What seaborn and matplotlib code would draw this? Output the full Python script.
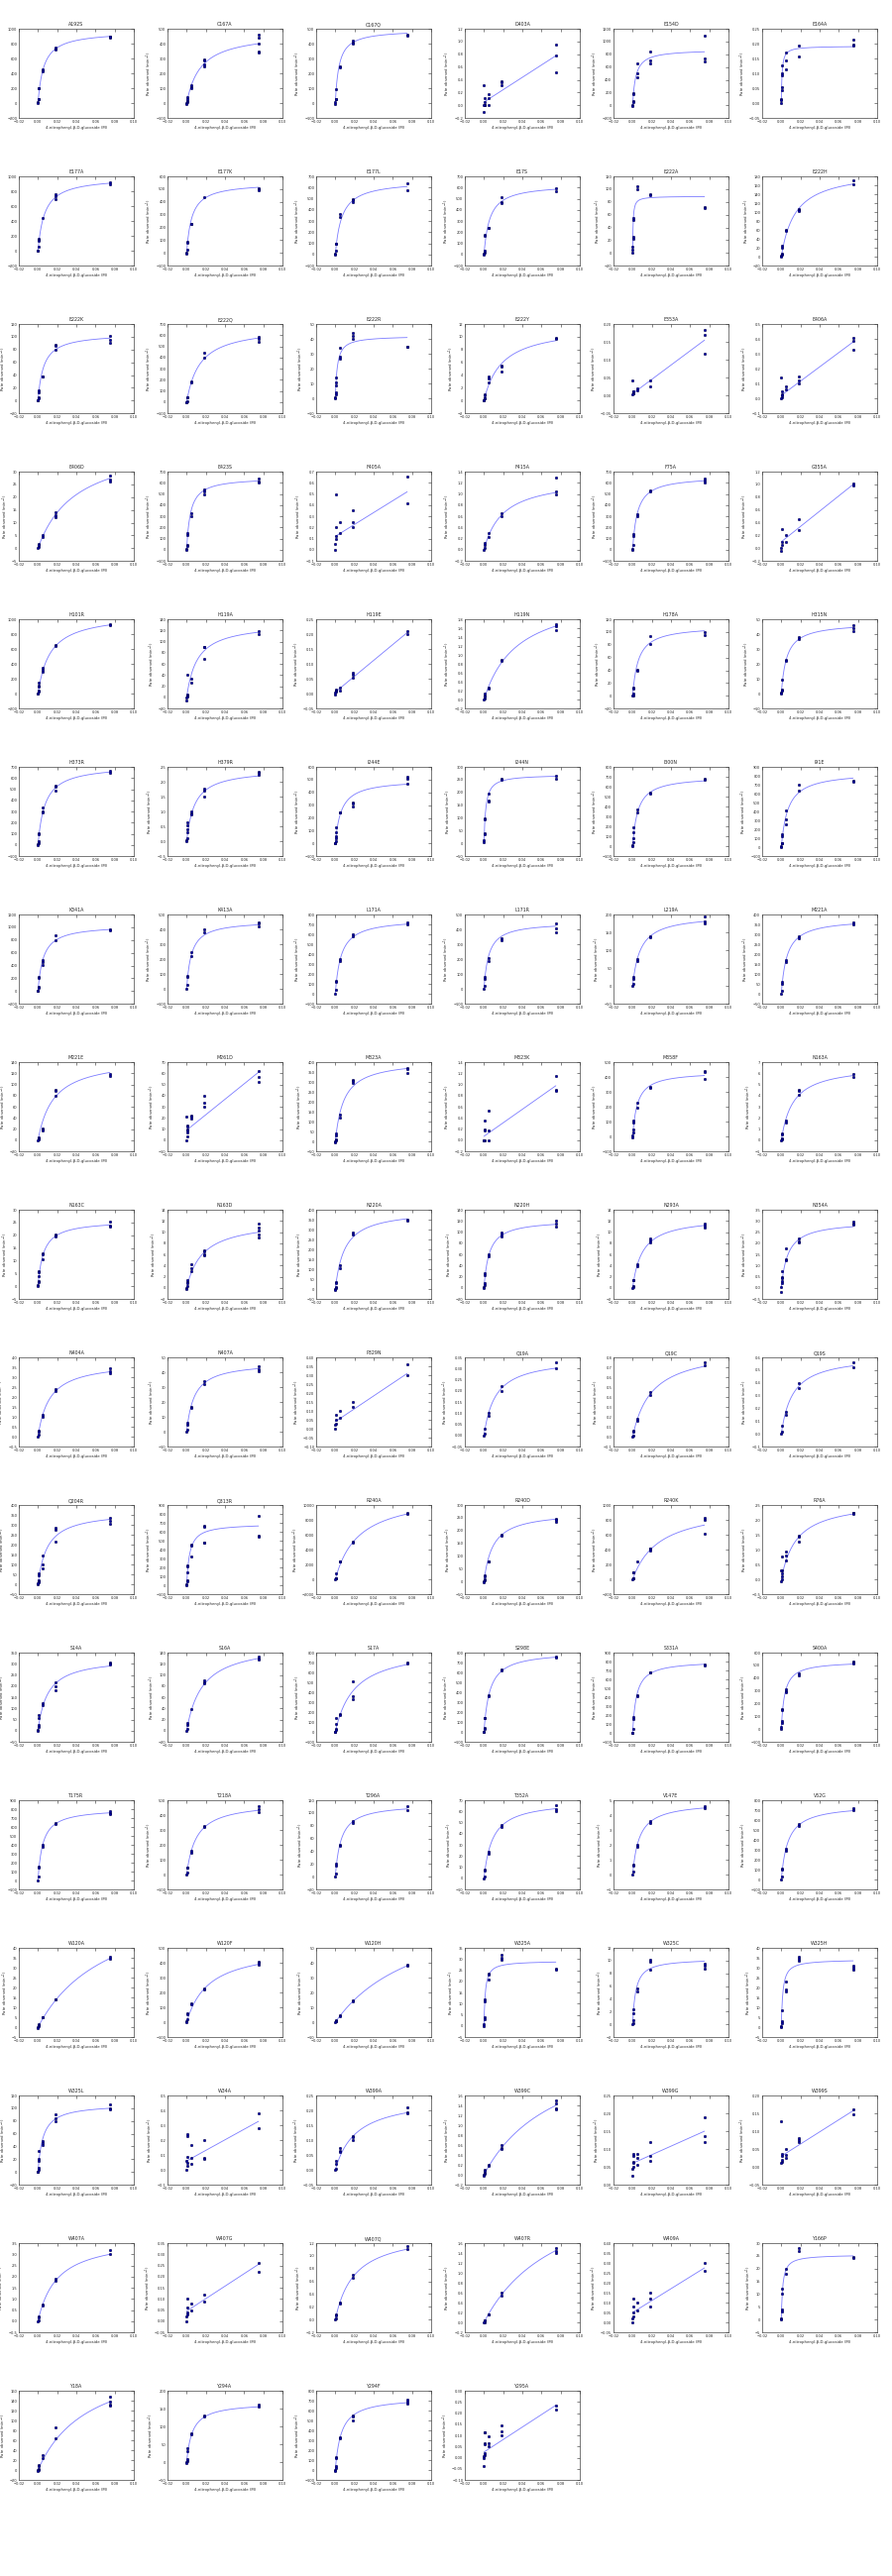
import numpy as np
import matplotlib
matplotlib.use("Agg")
import matplotlib.pyplot as plt
from matplotlib.ticker import MaxNLocator
import seaborn as sns

# substrate concentrations (M) of the 4-fold dilution series
conc = [0.075, 0.01875, 0.0047, 0.00117, 0.0003, 0.0]

mutants = [
    "A192S", "C167A", "C167Q", "D403A", "E154D", "E164A",
    "E177A", "E177K", "E177L", "E17S", "E222A", "E222H",
    "E222K", "E222Q", "E222R", "E222Y", "E353A", "E406A",
    "E406D", "E423S", "F405A", "F415A", "F75A", "G355A",
    "H101R", "H119A", "H119E", "H119N", "H178A", "H315N",
    "H373R", "H379R", "I244E", "I244N", "I300N", "I91E",
    "K341A", "K413A", "L171A", "L171R", "L219A", "M221A",
    "M221E", "M261D", "M323A", "M323K", "M358F", "N163A",
    "N163C", "N163D", "N220A", "N220H", "N293A", "N354A",
    "N404A", "N407A", "P329N", "Q19A", "Q19C", "Q19S",
    "Q204R", "Q313R", "R240A", "R240D", "R240K", "R76A",
    "S14A", "S16A", "S17A", "S298E", "S331A", "S400A",
    "T175R", "T218A", "T296A", "T352A", "V147E", "V52G",
    "W120A", "W120F", "W120H", "W325A", "W325C", "W325H",
    "W325L", "W34A", "W399A", "W399C", "W399G", "W399S",
    "W407A", "W407G", "W407Q", "W407R", "W409A", "Y166P",
    "Y18A", "Y294A", "Y294F", "Y295A",
]

# observed rates, one list per concentration in `conc`
rates = [
    [[890, 880, 900], [740, 720, 750], [440, 430, 450], [200, 195], [60, 50], [10, -5]],
    [[460, 440, 400, 350, 340], [295, 290, 260, 250], [120, 110, 100], [40, 30], [15, 10], [0, -5]],
    [[460, 455], [420, 410, 400], [245, 240], [95], [30, 25], [5, -5]],
    [[0.95, 0.78, 0.52], [0.38, 0.36, 0.32], [0.17, 0.12, 0.0], [0.11, 0.05], [0.0, 0.0], [0.31, -0.1, 0.0]],
    [[1090, 730, 690], [850, 710, 660], [660, 500, 440], [190, 180], [70, 50], [10, -5]],
    [[0.213, 0.197, 0.194], [0.194, 0.157], [0.172, 0.143, 0.113], [0.128, 0.10, 0.095], [0.053, 0.045], [0.015, 0.01, 0.0]],
    [[920, 900], [760, 740, 690], [440], [160, 150, 130], [50], [5, -5]],
    [[510, 500, 490], [440], [230, 225], [90, 80], [25], [5, -5]],
    [[635, 580], [500, 485, 470], [360, 340], [100, 95], [30], [5, -5]],
    [[590, 570], [510, 470, 460], [240, 235], [180, 170], [30, 20], [5, -5]],
    [[72, 70], [92, 90], [104, 100], [55, 52], [25, 22], [10, 5, 1]],
    [[172, 162], [108, 105, 102], [60, 58], [25, 20], [7, 5], [2, 0]],
    [[101, 95, 90], [88, 86, 80], [38, 37], [16, 13], [5, 3], [1, 0]],
    [[585, 570, 545], [445, 400], [185, 180], [45, 40], [10], [0, -5]],
    [[35, 34.5], [44, 42, 40], [34, 28, 27], [14, 11, 9], [4, 3], [1, 0]],
    [[9.9, 9.7], [5.5, 5.3, 4.5], [3.7, 3.4, 2.9], [1.0, 0.8], [0.4, 0.3], [0.1, 0.0]],
    [[0.183, 0.17, 0.117], [0.042, 0.025], [0.02, 0.015], [0.012, 0.01, 0.007], [0.005], [0.043, 0.003]],
    [[0.41, 0.39, 0.33], [0.15, 0.12, 0.10], [0.08, 0.06], [0.05, 0.03], [0.02, 0.01], [0.14, 0.0]],
    [[28.5, 27, 26], [14, 13, 12], [5, 4.5], [1.5, 1.2], [0.4], [0.0]],
    [[640, 610, 600], [540, 520, 500], [330, 300], [150, 130], [40, 30], [5, 0]],
    [[0.66, 0.42], [0.35, 0.25, 0.20], [0.25, 0.15], [0.5, 0.12], [0.2, 0.1], [0.05, 0.0]],
    [[1.3, 1.05, 1.0], [0.65, 0.6], [0.3, 0.22], [0.12, 0.08], [0.03], [0.0]],
    [[640, 620, 600], [530, 520], [320, 300], [140, 120], [40], [5, 0]],
    [[1.02, 0.98], [0.45, 0.28], [0.2, 0.1], [0.3, 0.05], [0.1], [0.0, -0.05]],
    [[940, 920], [660, 640], [350, 320, 300], [150, 110, 90], [40, 30], [5, 0]],
    [[118, 113], [91, 90, 69], [33, 26], [5, 3], [40, 1], [0, -5]],
    [[0.21, 0.20], [0.07, 0.065, 0.055], [0.02, 0.01], [0.012, 0.01], [0.008], [0.005, -0.003]],
    [[1.7, 1.65, 1.55], [0.9, 0.87], [0.26, 0.24], [0.08, 0.06], [0.14, 0.02], [0.0]],
    [[100, 95], [94, 82], [41, 40], [13, 11], [3, 1], [0]],
    [[46, 44, 42], [38, 37], [23, 22], [9.5], [3, 2], [0.5, 0]],
    [[665, 650], [535, 525, 490], [340, 300, 295], [105, 100], [30, 20], [5, 0]],
    [[2.35, 2.3, 2.25], [1.78, 1.7, 1.5], [1.0, 0.95, 0.9], [0.65, 0.55, 0.4], [0.3, 0.1], [0.05, 0.0]],
    [[520, 510, 465], [320, 310, 290], [245, 240], [130, 90, 60], [40, 20], [5, 0]],
    [[265, 255], [252, 248], [195, 170, 165], [100, 95], [40, 35], [12, 3]],
    [[680, 670], [540, 530], [370, 340], [195, 145], [80, 40], [10, 0]],
    [[740, 735], [700, 630], [410, 310, 260], [140, 120], [50, 40], [10, 0]],
    [[970, 950], [870, 800], [480, 450, 410], [220, 210], [70, 50], [10, 0]],
    [[450, 440, 420], [400, 380], [250, 220], [90, 80], [25], [0]],
    [[720, 700], [600, 580], [350, 330], [130, 120], [40], [0]],
    [[440, 410, 380], [340, 330], [210, 190], [80, 70], [20], [0]],
    [[195, 180, 175], [140, 135], [75, 70], [25, 20], [5], [0]],
    [[360, 350], [290, 280], [170, 160], [60, 50], [15], [0]],
    [[118, 116], [90, 88, 80], [21, 19, 18], [5, 3], [1], [0]],
    [[62, 57, 52], [40, 34, 30], [22, 21, 19], [13, 12, 10], [9, 7, 3], [21, 0]],
    [[370, 365, 345], [310, 305, 295], [135, 120], [40, 30], [10, 5], [0, -5]],
    [[1.16, 0.9, 0.88], [], [0.53, 0.17, 0.0], [0.35, 0.2, 0.18], [0.0], [0.0, 0.0]],
    [[440, 435, 390], [335, 330], [225, 195], [110, 95], [50, 30], [5, -5]],
    [[5.9, 5.7], [4.5, 4.4, 4.1], [1.8, 1.6], [0.6, 0.5], [0.2, 0.1], [0.0]],
    [[25.5, 24, 23.5], [20.5, 20, 19.5], [13, 12.5, 10.5], [6, 5.5, 4], [2, 1.5], [0.5, 0]],
    [[11.6, 10.8, 10.2, 9.5, 9.1], [6.8, 6.5, 6.0, 5.8], [4.3, 3.5, 3.0], [1.3, 1.1, 0.8], [0.3], [0.0, -0.2]],
    [[350, 345], [285, 275], [120, 105], [35, 30], [10, 5], [0, -5]],
    [[120, 115, 110], [99, 95, 93], [60, 57], [27, 23], [9, 5], [1, 0]],
    [[11.6, 11.2, 10.8], [8.8, 8.5, 8.2], [4.3, 3.8], [1.4, 1.3], [0.3, 0.1], [0.0]],
    [[2.95, 2.9, 2.85], [2.2, 2.1, 2.05], [1.75, 1.3, 1.25], [0.75, 0.5, 0.45], [0.3, 0.2], [0.05, -0.2]],
    [[3.45, 3.3, 3.2], [2.4, 2.3], [1.1, 1.0], [0.3, 0.25], [0.08], [0.0]],
    [[44, 42, 41], [34, 32], [17, 16], [6, 5], [1.5], [0]],
    [[0.36, 0.30], [0.15, 0.12], [0.10, 0.06], [0.08, 0.05], [0.03], [0.0, 0.02]],
    [[0.33, 0.30], [0.22, 0.20], [0.10, 0.09], [0.03], [0.01], [0.0]],
    [[0.75, 0.72], [0.45, 0.42], [0.18, 0.16], [0.06, 0.05], [0.01], [0.0]],
    [[0.56, 0.52], [0.40, 0.36], [0.17, 0.15], [0.06], [0.02], [0.0]],
    [[335, 320, 305], [285, 275, 215], [145, 100, 80], [55, 45, 20], [15, 10], [0, 5]],
    [[780, 560, 545], [665, 655, 480, 475], [460, 450, 320], [220, 210, 150], [60, 50], [10, 0]],
    [[8900, 8800], [5100, 5000], [2400, 2350], [750], [200, 100], [0]],
    [[245, 240, 235], [185, 180], [80, 78], [25, 20], [8, 3], [0, -3]],
    [[830, 800, 620], [420, 410, 390], [240], [100, 90], [20, 10], [0]],
    [[2.25, 2.22, 2.2], [1.48, 1.42, 1.28], [0.95, 0.8, 0.62], [0.78, 0.3, 0.2], [0.1, 0.0], [-0.05, 0.3]],
    [[305, 300, 295], [215, 200, 180], [125, 115], [70, 55], [25, 15], [3, 0]],
    [[133, 130, 127], [90, 87, 85], [39], [13, 11], [3], [0]],
    [[700, 695], [510, 360, 330], [180, 175], [140, 80], [30, 20], [5, 0]],
    [[760, 755], [630, 625], [370, 365], [145, 140], [40, 30], [5, 0]],
    [[765, 760], [680, 675], [420, 410], [180, 160], [50], [5, 0]],
    [[530, 520, 515], [440, 420], [310, 300, 290], [160, 150], [60, 50], [20, 5]],
    [[780, 760, 740], [650, 630], [400, 380], [160, 150], [50], [5]],
    [[460, 440, 420], [330, 320], [160, 150], [50, 45], [12], [0]],
    [[110, 105], [88, 85], [50, 48], [20, 18], [5], [0]],
    [[66, 62, 60], [48, 46], [24, 22], [8, 7], [2], [0]],
    [[4.6, 4.5], [3.6, 3.5], [2.0, 1.9], [0.7, 0.6], [0.2], [0.0]],
    [[720, 700], [560, 540], [310, 290], [110, 100], [30], [0]],
    [[35.5, 34.5], [14, 13.8], [5, 4.8], [1.5, 1.0], [0.5], [0, -0.3]],
    [[410, 400, 390], [230, 220], [125, 120], [60, 55], [20], [5, 0]],
    [[38.5, 38], [14.5, 14], [4.5, 4.0], [1.5, 1.0], [0.5], [0]],
    [[25.5, 25.3], [32, 30.5, 29.5], [23.5, 23, 21], [12, 11], [4, 3], [1, 0]],
    [[9.5, 9.2, 8.8], [10.1, 9.9, 8.6], [5.7, 5.1], [2.3, 1.8], [0.6, 0.2], [0.0]],
    [[31, 30, 29], [35.5, 34.5, 33.5], [23, 19, 18], [8.5], [3, 2], [0.5, 0]],
    [[106, 100, 98], [90, 85, 80], [48, 45, 43], [33, 20, 18], [6, 4], [1, 0]],
    [[0.38, 0.28], [0.2, 0.08, 0.075], [0.17, 0.08, 0.04], [0.05, 0.03], [0.24, 0.23, 0.09], [0.0, 0.06]],
    [[0.21, 0.195, 0.19], [0.115, 0.11, 0.10], [0.075, 0.065, 0.06], [0.03, 0.02], [0.005], [0.0]],
    [[1.5, 1.45, 1.35, 1.33], [0.6, 0.55, 0.53], [0.2, 0.18], [0.1, 0.08], [0.05, 0.02], [0.0, -0.02]],
    [[0.19, 0.135, 0.12], [0.12, 0.08, 0.068], [0.087, 0.075, 0.057], [0.085, 0.08, 0.065], [0.06, 0.05], [0.045, 0.025]],
    [[0.16, 0.147], [0.08, 0.075, 0.07], [0.05, 0.033, 0.025], [0.035, 0.03], [0.02, 0.015], [0.128, 0.01]],
    [[3.2, 3.0], [1.9, 1.8], [0.75, 0.7], [0.2, 0.18], [0.05], [0.0]],
    [[0.26, 0.22], [0.12, 0.09], [0.08, 0.05], [0.06, 0.04], [0.1, 0.03], [0.02, 0.0]],
    [[1.15, 1.1], [0.7, 0.65], [0.27, 0.25], [0.08, 0.07], [0.02], [0.0]],
    [[1.5, 1.45, 1.4], [0.6, 0.55], [0.17, 0.16], [0.05, 0.04], [0.01], [0.0]],
    [[0.30, 0.26], [0.15, 0.12, 0.08], [0.10, 0.06], [0.08, 0.05], [0.12, 0.03], [0.02, 0.0]],
    [[24.5, 24], [28, 27], [20, 18], [12, 10], [4, 3], [0.5, 0]],
    [[148, 138, 132, 130], [86, 64], [31, 24], [10, 8], [2, 1], [0, -1]],
    [[160, 155], [130, 127], [80, 78], [38, 32], [8, 3], [0, -2]],
    [[710, 690, 670], [550, 540, 500], [330, 325], [135, 120], [40, 20], [0, -10]],
    [[0.233, 0.215], [0.145, 0.12, 0.10], [0.097, 0.066, 0.05], [0.115, 0.112, 0.063], [0.062, 0.02, 0.01], [0.005, -0.037, 0.0]],
]

# fitted model: "mm" -> (Vmax, Km), "lin" -> (intercept, slope)
fit_kind = [
    "mm", "mm", "mm", "lin", "mm", "mm",
    "mm", "mm", "mm", "mm", "mm", "mm",
    "mm", "mm", "mm", "mm", "lin", "lin",
    "mm", "mm", "lin", "mm", "mm", "lin",
    "mm", "mm", "lin", "mm", "mm", "mm",
    "mm", "mm", "mm", "mm", "mm", "mm",
    "mm", "mm", "mm", "mm", "mm", "mm",
    "mm", "lin", "mm", "lin", "mm", "mm",
    "mm", "mm", "mm", "mm", "mm", "mm",
    "mm", "mm", "lin", "mm", "mm", "mm",
    "mm", "mm", "mm", "mm", "mm", "mm",
    "mm", "mm", "mm", "mm", "mm", "mm",
    "mm", "mm", "mm", "mm", "mm", "mm",
    "mm", "mm", "mm", "mm", "mm", "mm",
    "mm", "lin", "mm", "mm", "lin", "lin",
    "mm", "lin", "mm", "mm", "lin", "mm",
    "mm", "mm", "mm", "lin",
]
fit_p1 = [
    970, 478, 495, 0.05, 876, 0.192,
    993, 552, 665, 632, 89, 195,
    105.7, 680, 42.1, 11.77, 0.005, 0.02,
    42, 650, 0.12, 1.3, 660, 0.1,
    1080, 134, 0.005, 2.42, 110, 47.8,
    718, 2.44, 503, 270, 708, 847,
    1038, 460, 760, 450, 200, 380,
    148, 9, 412, 0.07, 438, 6.75,
    25.9, 12.2, 401, 122.3, 12.7, 3.0,
    3.8, 47, 0.04, 0.35, 0.9, 0.62,
    370, 693, 11670, 275, 1003, 2.67,
    329, 158, 861, 815, 811, 534,
    810, 490, 115, 70, 4.9, 760,
    69.7, 510, 84.4, 29.2, 10.34, 34.2,
    106.9, 0.06, 0.249, 2.85, 0.06, 0.03,
    3.8, 0.045, 1.4, 3.0, 0.05, 25.5,
    236, 167.5, 736, 0.025,
]
fit_p2 = [
    0.006, 0.0146, 0.0039, 9.7, 0.0032, 0.0008,
    0.0069, 0.0054, 0.0068, 0.006, 0.0005, 0.0147,
    0.0059, 0.0137, 0.0021, 0.0189, 2.0, 4.8,
    0.04, 0.004, 5.33, 0.02, 0.005, 12.0,
    0.0126, 0.011, 2.67, 0.0351, 0.0059, 0.0056,
    0.0073, 0.0083, 0.0062, 0.0019, 0.0055, 0.007,
    0.0056, 0.005, 0.006, 0.005, 0.008, 0.006,
    0.0163, 693, 0.0089, 12.1, 0.0051, 0.0123,
    0.0058, 0.0168, 0.0098, 0.0055, 0.0101, 0.007,
    0.012, 0.008, 3.6, 0.012, 0.02, 0.012,
    0.0097, 0.0031, 0.0245, 0.0093, 0.0279, 0.016,
    0.0101, 0.0164, 0.0199, 0.006, 0.004, 0.0035,
    0.005, 0.01, 0.006, 0.009, 0.007, 0.007,
    0.0757, 0.0232, 0.0916, 0.0014, 0.0033, 0.0016,
    0.0052, 3.55, 0.0221, 0.0777, 1.2, 1.7,
    0.02, 2.8, 0.02, 0.08, 3.0, 0.0015,
    0.0534, 0.006, 0.0062, 2.8,
]

# y axis ranges as printed on each panel
y_lo = [
    -200, -100, -100, -0.2, -200, -0.05,
    -200, -100, -100, -100, -20, -20,
    -20, -100, -10, -2, -0.05, -0.1,
    -5, -100, -0.1, -0.2, -100, -0.2,
    -200, -20, -0.05, -0.2, -20, -10,
    -100, -0.5, -100, -50, -100, -100,
    -200, -100, -100, -100, -50, -50,
    -20, -10, -50, -0.2, -100, -1,
    -5, -2, -50, -20, -2, -0.5,
    -0.5, -10, -0.1, -0.05, -0.1, -0.1,
    -50, -100, -2000, -50, -200, -0.5,
    -50, -20, -100, -100, -100, -100,
    -100, -100, -20, -10, -1, -100,
    -5, -100, -10, -5, -2, -5,
    -20, -0.1, -0.05, -0.2, 0.0, -0.05,
    -0.5, -0.05, -0.2, -0.2, -0.05, -5,
    -20, -50, -100, -0.1,
]
y_hi = [
    1000, 500, 500, 1.2, 1200, 0.25,
    1000, 600, 700, 700, 120, 180,
    120, 700, 50, 12, 0.2, 0.5,
    30, 700, 0.7, 1.4, 700, 1.2,
    1000, 140, 0.25, 1.8, 120, 50,
    700, 2.5, 600, 300, 800, 900,
    1200, 500, 800, 500, 200, 400,
    140, 70, 400, 1.4, 500, 7,
    30, 14, 400, 140, 14, 3.5,
    4.0, 50, 0.4, 0.35, 0.8, 0.6,
    400, 900, 10000, 300, 1000, 2.5,
    350, 140, 800, 800, 900, 600,
    900, 500, 120, 70, 5, 800,
    40, 500, 50, 35, 12, 40,
    120, 0.5, 0.25, 1.6, 0.25, 0.2,
    3.5, 0.35, 1.2, 1.6, 0.4, 30,
    160, 200, 800, 0.3,
]

sns.set_style("white")
plt.rcParams["font.family"] = ["DejaVu Sans"]

fig, axes = plt.subplots(17, 6, figsize=(9, 26), dpi=100)
fig.subplots_adjust(left=0.0211, right=0.9833, top=0.9888, bottom=0.0373,
                    wspace=0.293, hspace=0.656)
axes = axes.ravel()

xs = np.linspace(0, 0.075, 200)

for i, name in enumerate(mutants):
    ax = axes[i]
    px, py = [], []
    for c, grp in zip(conc, rates[i]):
        for v in grp:
            px.append(c)
            py.append(v)
    if fit_kind[i] == "mm":
        ys = fit_p1[i] * xs / (fit_p2[i] + xs)
    else:
        ys = fit_p1[i] + fit_p2[i] * xs
    sns.lineplot(x=xs, y=ys, ax=ax, color="#7b7bff", linewidth=0.6)
    sns.scatterplot(x=px, y=py, ax=ax, color="#0000b0", edgecolor="#000030",
                    s=3.5, linewidth=0.3, zorder=3)
    ax.set_xlim(-0.02, 0.10)
    ax.set_ylim(y_lo[i], y_hi[i])
    ax.xaxis.set_major_locator(MaxNLocator(nbins=6, steps=[1, 2, 5, 10]))
    ax.yaxis.set_major_locator(MaxNLocator(nbins=10, steps=[1, 2, 5, 10]))
    ax.tick_params(direction="in", top=True, right=True, length=2, width=0.4,
                   labelsize=2.6, pad=1.2)
    for sp in ax.spines.values():
        sp.set_linewidth(0.5)
        sp.set_color("#444444")
    ax.set_title(name, fontsize=3.4, pad=2)
    ax.set_xlabel("4-nitrophenyl-\u03b2-D-glucoside (M)", fontsize=2.8, labelpad=1.5)
    ax.set_ylabel("Rate observed (min$^{-1}$)", fontsize=2.8, labelpad=1.5)

for ax in axes[len(mutants):]:
    ax.set_visible(False)

fig.savefig("out.png", dpi=100)
